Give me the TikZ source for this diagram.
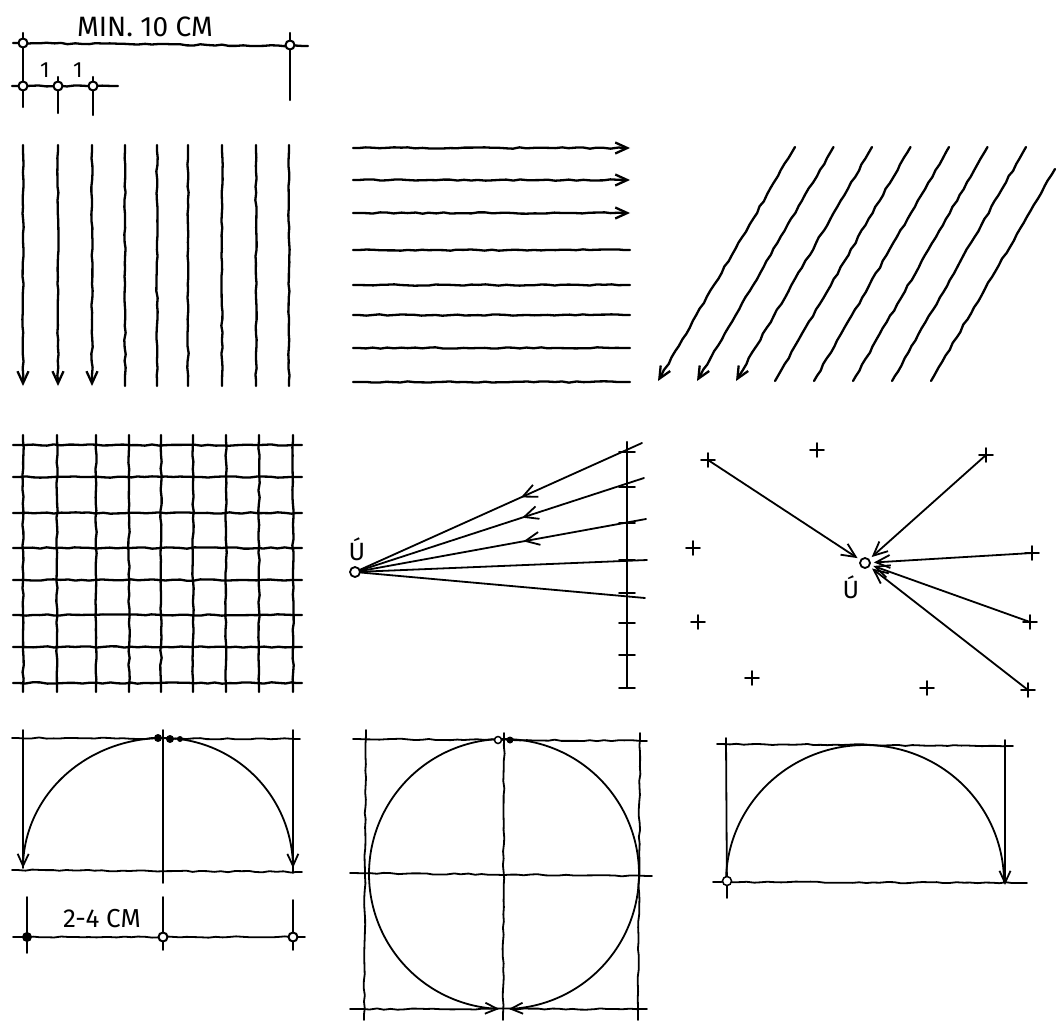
\documentclass[tikz,border=0pt]{standalone}
\usepackage{fontspec}
\setmainfont{Fira Sans}
\usetikzlibrary{arrows.meta,decorations.pathmorphing,decorations.markings}
\tikzset{
  ink/.style={line width=2.3pt, line cap=round, line join=round},
  fine/.style={line width=1.8pt, line cap=round, line join=round},
  wig/.style={decorate, decoration={random steps, segment length=7pt, amplitude=0.7pt, pre length=6pt, post length=6pt}},
  tip/.style={-{Straight Barb[length=12pt,width=11pt]}},
  ring/.style={circle, draw, line width=2pt, inner sep=0pt, minimum size=9pt, fill=white},
  blob/.style={circle, fill, inner sep=0pt, minimum size=10pt},
  big/.style={font=\fontsize{28}{30}\selectfont},
  mid/.style={font=\fontsize{26}{28}\selectfont},
  small/.style={font=\fontsize{22}{24}\selectfont},
  ulbl/.style={font=\fontsize{25}{27}\selectfont},
  midtip/.style={decoration={markings, mark=at position 0.43 with {\arrow{Straight Barb[length=14pt,width=13pt]}}}, postaction={decorate}}
}
\begin{document}
\begin{tikzpicture}[x=1pt,y=-1pt]
\fill[white] (0,0) rectangle (1057,1020);
\useasboundingbox (0,0) rectangle (1057,1020);

% ---------- panel 1: dimensions ----------
\coordinate (a1L) at (13,43);  \coordinate (a2R) at (308,46);
\coordinate (a1T) at (23,33);  \coordinate (a1B) at (23,107);
\coordinate (a2T) at (290,33); \coordinate (a2B) at (290,100);
\coordinate (b0L) at (12,86);  \coordinate (b0R) at (118,86);
\coordinate (b1T) at (58,77);  \coordinate (b1B) at (58,113);
\coordinate (b2T) at (93,77);  \coordinate (b2B) at (93,115);
\draw[ink,wig] (a1L) -- (a2R);
\draw[ink] (a1T) -- (a1B);
\draw[ink] (a2T) -- (a2B);
\draw[ink,wig] (b0L) -- (b0R);
\draw[ink] (b1T) -- (b1B);
\draw[ink] (b2T) -- (b2B);
\node[ring] (r1) at (23,43) {};
\node[ring] (r2) at (290,45) {};
\node[ring] (r3) at (23,86) {};
\node[ring] (r4) at (58,86) {};
\node[ring] (r5) at (93,86) {};
\node[big] (tmin) at (145,27) {MIN. 10 CM};
\node[small] (t1a) at (45,70) {1};
\node[small] (t1b) at (78,70) {1};

% ---------- panel 2: vertical lines ----------
\foreach \x [count=\i] in {23,58,92,125,157,188,222,256,289} {
  \coordinate (vt\i) at (\x,145);
  \coordinate (vb\i) at (\x,386);
}
\foreach \i in {1,2,3} \draw[ink,wig,tip] (vt\i) -- (vb\i);
\foreach \i in {4,...,9} \draw[ink,wig] (vt\i) -- (vb\i);

% ---------- panel 3: horizontal lines ----------
\foreach \y [count=\i] in {148,180,213,250,285,315,348,382} {
  \coordinate (hl\i) at (353,\y);
  \coordinate (hr\i) at (630,\y);
}
\foreach \i in {1,2,3} \draw[ink,wig,tip] (hl\i) -- (hr\i);
\foreach \i in {4,...,8} \draw[ink,wig] (hl\i) -- (hr\i);

% ---------- panel 4: diagonal lines ----------
\foreach \i in {0,...,6} {
  \coordinate (dt\i) at ({795+38.5*\i},147);
  \coordinate (db\i) at ({658+39*\i},381);
}
\coordinate (dt7) at (1055,169);
\coordinate (db7) at (931,381);
\foreach \i in {0,1,2} \draw[ink,wig,tip] (dt\i) -- (db\i);
\foreach \i in {3,...,7} \draw[ink,wig] (dt\i) -- (db\i);

% ---------- panel 5: grid ----------
\foreach \x [count=\i] in {23,57,96,129,161,193,226,259,293} {
  \coordinate (gt\i) at (\x,435);
  \coordinate (gb\i) at (\x,692);
  \draw[ink,wig] (gt\i) -- (gb\i);
}
\foreach \y [count=\i] in {445,477,513,548,580,615,647,683} {
  \coordinate (gl\i) at (13,\y);
  \coordinate (gr\i) at (302,\y);
  \draw[ink,wig] (gl\i) -- (gr\i);
}

% ---------- panel 6: fan to a point ----------
\node[ring, minimum size=10pt, line width=1.8pt] (U1) at (355,572) {};
\node[ulbl] (U1l) at (357,549) {Ú};
\coordinate (sT) at (627,442); \coordinate (sB) at (627,688);
\draw[ink] (sT) -- (sB);
\foreach \y [count=\i] in {452,487,523,560,593,623,655,688} {
  \coordinate (tk\i) at (627,\y);
  \draw[fine] (tk\i) ++(-8,0) -- ++(16,0);
}
\coordinate (e1) at (642,443);
\coordinate (e2) at (644,478);
\coordinate (e3) at (646,519);
\coordinate (e4) at (647,560);
\coordinate (e5) at (645,598);
\foreach \i in {1,2,3} \draw[fine,midtip] (e\i) -- (U1);
\foreach \i in {4,5} \draw[fine] (e\i) -- (U1);

% ---------- panel 7: points to a centre ----------
\node[ring, minimum size=10pt, line width=1.8pt] (U2) at (865,563) {};
\node[ulbl] (U2l) at (851,587) {Ú};
\foreach \px/\py [count=\i] in {708/460,817/450,986/455,693/548,1032/553,698/622,1030/622,752/678,927/688,1028/690} {
  \coordinate (c\i) at (\px,\py);
}
\foreach \i in {1,...,10} {
  \draw[fine] (c\i) ++(-7,0) -- ++(14,0);
  \draw[fine] (c\i) ++(0,-7) -- ++(0,14);
}
\foreach \i in {1,3,5,7,10} \draw[fine,-{Straight Barb[length=14pt,width=13pt]},shorten >=3pt] (c\i) -- (U2);

% ---------- panel 8: two quarter arcs ----------
\coordinate (q1L) at (12,738);  \coordinate (q1R) at (300,739);
\coordinate (q2L) at (12,870);  \coordinate (q2R) at (302,872);
\coordinate (qv1T) at (23,730); \coordinate (qv1B) at (23,868);
\coordinate (qv2T) at (163,730);\coordinate (qv2B) at (163,883);
\coordinate (qv3T) at (293,730);\coordinate (qv3B) at (293,873);
\draw[fine,wig] (q1L) -- (q1R);
\draw[fine,wig] (q2L) -- (q2R);
\draw[fine] (qv1T) -- (qv1B);
\draw[fine] (qv2T) -- (qv2B);
\draw[fine] (qv3T) -- (qv3B);
\draw[fine,tip] plot[domain=90:180, samples=50, smooth] ({163+140*cos(\x)}, {868-130*sin(\x)});
\draw[fine,tip] plot[domain=90:0, samples=50, smooth] ({163+130*cos(\x)}, {868-130*sin(\x)});
\node[blob, minimum size=8pt] (q1d) at (158,738) {};
\node[blob, minimum size=8pt] (q2d) at (170,739) {};
\node[blob, minimum size=6pt] (q3d) at (180,739) {};
% dimension 2-4 cm
\coordinate (dL) at (13,937); \coordinate (dR) at (305,937);
\coordinate (dv1T) at (27,897); \coordinate (dv1B) at (27,953);
\coordinate (dv2T) at (163,897);\coordinate (dv2B) at (163,950);
\coordinate (dv3T) at (293,900);\coordinate (dv3B) at (293,950);
\draw[fine,wig] (dL) -- (dR);
\draw[fine] (dv1T) -- (dv1B);
\draw[fine] (dv2T) -- (dv2B);
\draw[fine] (dv3T) -- (dv3B);
\node[blob] (dd1) at (27,937) {};
\node[ring] (dd2) at (163,937) {};
\node[ring] (dd3) at (293,937) {};
\node[mid] (t24) at (102,919) {2-4 CM};

% ---------- panel 9: circle ----------
\coordinate (k1L) at (353,739); \coordinate (k1R) at (647,741);
\coordinate (k2L) at (350,873); \coordinate (k2R) at (652,876);
\coordinate (k3L) at (350,1009);\coordinate (k3R) at (647,1009);
\coordinate (kv1T) at (366,730);\coordinate (kv1B) at (364,1020);
\coordinate (kv2T) at (504,733);\coordinate (kv2B) at (503,1020);
\coordinate (kv3T) at (640,733);\coordinate (kv3B) at (638,1020);
\draw[fine,wig] (k1L) -- (k1R);
\draw[fine,wig] (k2L) -- (k2R);
\draw[fine,wig] (k3L) -- (k3R);
\draw[fine,wig] (kv1T) -- (kv1B);
\draw[fine,wig] (kv2T) -- (kv2B);
\draw[fine,wig] (kv3T) -- (kv3B);
\draw[fine,tip] plot[domain=90:268, samples=70, smooth] ({504+135*cos(\x)}, {874-135*sin(\x)});
\draw[fine,tip] plot[domain=90:-88, samples=70, smooth] ({504+135*cos(\x)}, {874-135*sin(\x)});
\node[ring, minimum size=7pt, line width=1.5pt] (k1d) at (498,740) {};
\node[blob, minimum size=7pt] (k2d) at (510,740) {};

% ---------- panel 10: half ellipse ----------
\coordinate (m1L) at (717,744); \coordinate (m1R) at (1013,746);
\coordinate (m2L) at (713,882); \coordinate (m2R) at (1027,883);
\coordinate (mv1T) at (726,738);\coordinate (mv1B) at (727,898);
\coordinate (mv2T) at (1005,740);\coordinate (mv2B) at (1005,885);
\draw[fine,wig] (m1L) -- (m1R);
\draw[fine,wig] (m2L) -- (m2R);
\draw[fine] (mv1T) -- (mv1B);
\draw[fine,tip] (mv2T) -- (mv2B);
\draw[fine] plot[domain=180:0, samples=70, smooth] ({865+139*cos(\x)}, {882-137*sin(\x)});
\node[ring, minimum size=9pt, line width=1.5pt] (m0) at (727,881) {};
\end{tikzpicture}
\end{document}
